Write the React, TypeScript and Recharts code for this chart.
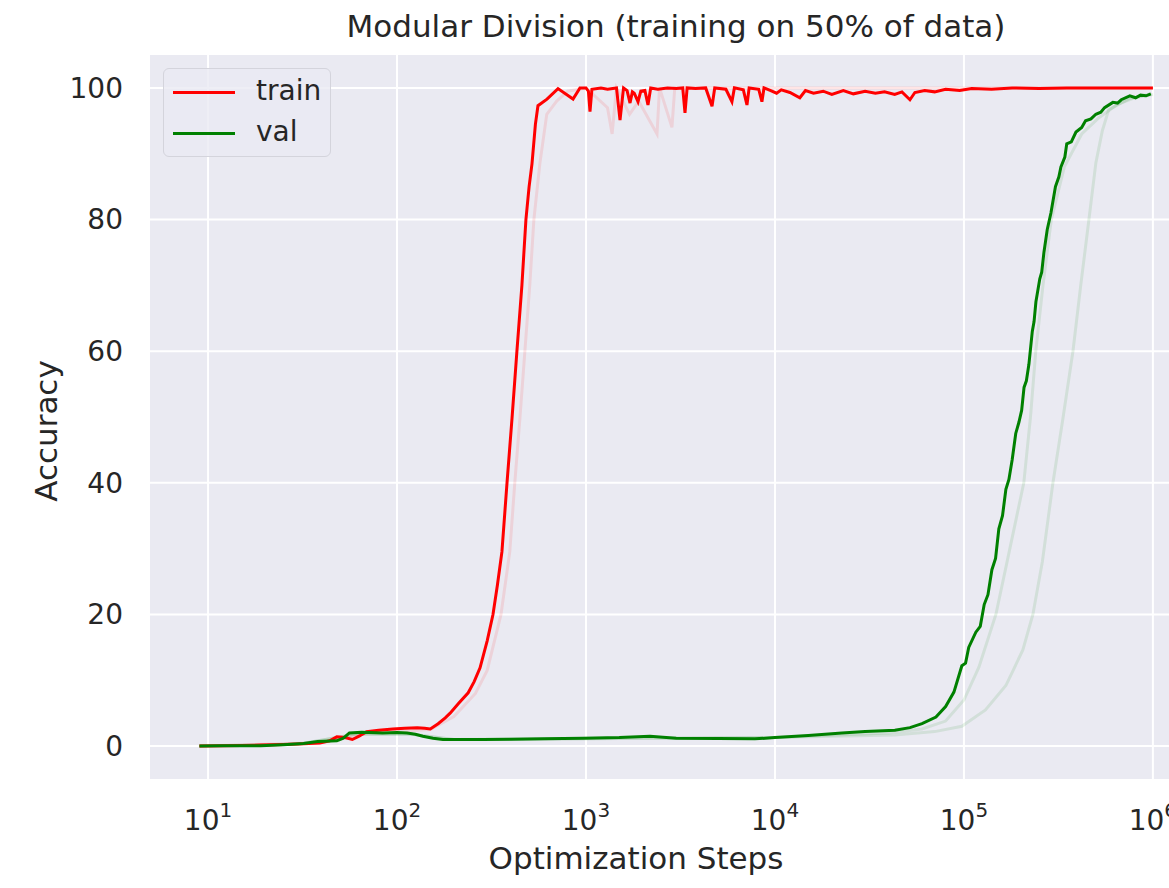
import { LineChart, Line, XAxis, YAxis, CartesianGrid, Legend } from "recharts";

// [step, accuracy %] pairs
const TRAIN: [number, number][] = [
  [9, 0], [12, 0.05], [15, 0.1], [19, 0.15], [25, 0.25], [32, 0.35], [39, 0.45], [44, 0.8],
  [48, 1.4], [53, 1.3], [58, 1.0], [63, 1.5], [69, 2.2], [80, 2.4], [95, 2.6], [110, 2.7],
  [128, 2.8], [140, 2.7], [150, 2.6], [165, 3.4], [180, 4.3], [191, 5.0], [212, 6.5], [238, 8.1],
  [256, 9.8], [275, 11.9], [300, 16], [322, 20], [340, 24.5], [359, 29.5], [382, 40], [406, 49.8],
  [431, 60], [458, 70], [481, 80], [500, 85], [518, 88.5], [540, 94.5], [557, 97.3], [622, 98.3],
  [711, 99.9], [854, 98.3], [929, 100], [1000, 100], [1030, 99.5], [1050, 96.4], [1075, 99.8],
  [1200, 100], [1300, 99.8], [1450, 100], [1514, 95.1], [1580, 100], [1650, 99.6], [1710, 97.7],
  [1760, 99.4], [1800, 99.2], [1885, 97.9], [1950, 99.5], [2050, 99.6], [2128, 97.4], [2200, 100],
  [2400, 99.8], [2700, 100], [3000, 99.9], [3250, 100], [3341, 96.2], [3430, 100], [3800, 99.9],
  [4300, 100], [4645, 97.2], [4800, 100], [5500, 99.8], [5920, 97.9], [6100, 100], [6800, 99.7],
  [7110, 97.4], [7300, 100], [8200, 99.8], [8530, 97.9], [8750, 100], [9500, 99.6], [10200, 99.2],
  [10800, 99.7], [12000, 99.3], [13540, 98.5], [14500, 99.6], [16000, 99.2], [18000, 99.5],
  [20000, 99.0], [23000, 99.6], [26000, 99.1], [30000, 99.5], [34000, 99.2], [38000, 99.4],
  [43000, 99.0], [47000, 99.4], [51800, 98.2], [55000, 99.3], [62000, 99.6], [70000, 99.4],
  [80000, 99.8], [95000, 99.6], [110000, 99.9], [140000, 99.8], [180000, 100], [250000, 99.9],
  [350000, 100], [500000, 100], [700000, 100], [1000000, 100],
];

const TRAIN_FAINT: [number, number][] = [
  [9, 0], [40, 0.5], [70, 2.0], [150, 2.5], [200, 4.5], [260, 8], [300, 11.5], [355, 20],
  [395, 29.5], [420, 40], [447, 49.8], [475, 60], [504, 70], [530, 80], [570, 88.5], [620, 96],
  [700, 98], [800, 99.5], [1000, 100], [1300, 97], [1375, 93], [1450, 100], [1700, 96], [1900, 98],
  [2376, 93], [2450, 100], [2850, 94], [2950, 100], [3500, 100], [1000000, 100],
];

const VAL: [number, number][] = [
  [9, 0], [12, 0.05], [15, 0.05], [19, 0.05], [25, 0.2], [32, 0.4], [38, 0.7], [48, 0.8],
  [52, 1.2], [56, 2.0], [65, 2.1], [84, 2.0], [100, 2.05], [113, 2.0], [125, 1.8], [137, 1.5],
  [155, 1.2], [175, 1.0], [220, 1.0], [285, 1.0], [400, 1.05], [600, 1.1], [964, 1.2],
  [1500, 1.3], [2180, 1.5], [3000, 1.2], [5000, 1.15], [7830, 1.1], [10000, 1.3], [15000, 1.6],
  [22600, 2.0], [30000, 2.2], [43100, 2.4], [51800, 2.8], [60000, 3.4], [71100, 4.4],
  [80000, 6.0], [88500, 8.2], [97500, 12.2], [102000, 12.6], [106000, 15.0], [115600, 17.3],
  [122000, 18.2], [128000, 21.5], [134000, 23.0], [140600, 26.8], [147000, 28.5], [153000, 33.0],
  [160000, 35.0], [166700, 39], [173000, 40.5], [180000, 43.5], [188000, 47.5], [195400, 49.2],
  [202000, 51.0], [208000, 54.5], [214000, 55.5], [220700, 58], [230000, 63], [235000, 64.5],
  [240400, 67.5], [252000, 71], [258000, 72], [265000, 75], [276000, 78.5], [288600, 81],
  [305000, 85], [318000, 86.5], [326000, 88], [342000, 89.5], [350000, 91.5], [370000, 91.8],
  [391600, 93.3], [420000, 94], [440000, 95], [470000, 95.3], [499000, 96], [530000, 96.3],
  [555000, 97], [613700, 97.8], [650000, 97.7], [680000, 98.2], [755000, 98.8], [810000, 98.5],
  [860000, 98.9], [920000, 98.8], [975000, 99.1],
];

const VAL_FAINT_A: [number, number][] = [
  [9, 0], [30, 0.3], [60, 1.8], [120, 1.8], [200, 1.0], [1000, 1.1], [10000, 1.3], [40000, 2.0],
  [60000, 2.6], [80000, 3.8], [100000, 7], [120000, 12], [147600, 20], [175000, 30], [207400, 40],
  [225000, 50], [240000, 60], [262000, 70], [290000, 80], [340000, 88], [420000, 93],
  [520000, 95.5], [650000, 97.5], [800000, 98.5], [1000000, 99],
];

const VAL_FAINT_B: [number, number][] = [
  [9, 0], [30, 0.3], [60, 1.8], [120, 1.8], [200, 1.0], [1000, 1.1], [10000, 1.3], [43100, 1.7],
  [70000, 2.2], [97500, 3.0], [130000, 5.5], [166700, 9.2], [205000, 14.6], [231700, 20],
  [260000, 28], [295800, 40], [335000, 50], [377500, 60], [415000, 70], [458600, 80],
  [499000, 88.6], [540000, 93.5], [584000, 96.7], [755000, 98.4], [975000, 99.1],
];

const X_TICKS = [10, 100, 1000, 10000, 100000, 1000000];
const Y_TICKS = [0, 20, 40, 60, 80, 100];

const TEXT = "#262626";
const FONT = "'DejaVu Sans', sans-serif";

const toRows = (pts: [number, number][]) => pts.map(([step, acc]) => ({ step, acc }));

function XTick({ x, payload }: any) {
  const exp = Math.round(Math.log10(payload.value));
  return (
    <text x={x} y={830} textAnchor="middle" fill={TEXT} fontSize={28} fontFamily={FONT}>
      10<tspan dy={-13} fontSize={20}>{exp}</tspan>
    </text>
  );
}

function YTick({ y, payload }: any) {
  return (
    <text x={123} y={y} dy="0.35em" textAnchor="end" fill={TEXT} fontSize={28} fontFamily={FONT}>
      {payload.value}
    </text>
  );
}

function LegendBox({ payload }: any) {
  const items = (payload || []).filter((p: any) => p.type !== "none");
  return (
    <div
      style={{
        width: 168, height: 89, boxSizing: "border-box", border: "1px solid #d4d4dc",
        borderRadius: 6, background: "rgba(234,234,242,0.8)", position: "relative",
      }}
    >
      {items.map((p: any, i: number) => (
        <div key={p.value} style={{ position: "absolute", left: 0, top: 4 + i * 41, height: 38, width: 168 }}>
          <div style={{ position: "absolute", left: 9, top: 18, width: 62, height: 3, background: p.color }} />
          <span style={{ position: "absolute", left: 92, top: 1, fontSize: 28, color: TEXT, fontFamily: FONT }}>
            {p.value}
          </span>
        </div>
      ))}
    </div>
  );
}

export default function App() {
  return (
    <div style={{ position: "absolute", left: 0, top: 0, width: 1169, height: 888, overflow: "hidden", background: "#fff", fontFamily: FONT }}>
      <LineChart width={1210} height={888} margin={{ top: 55, right: 10, bottom: 49, left: 90 }}>
        <CartesianGrid fill="#EAEAF2" fillOpacity={1} stroke="#ffffff" strokeWidth={2} syncWithTicks />
        <XAxis
          dataKey="step" type="number" scale="log" domain={[4.93, 1775000]} allowDataOverflow
          ticks={X_TICKS} tick={<XTick />} axisLine={false} tickLine={false} height={60}
        />
        <YAxis
          type="number" domain={[-5, 105]} ticks={Y_TICKS} tick={<YTick />}
          axisLine={false} tickLine={false} width={60}
        />
        <Legend
          layout="horizontal" verticalAlign="middle" align="center"
          wrapperStyle={{ left: 163, top: 68, width: 170, height: 91 }}
          content={<LegendBox />}
        />
        <Line data={toRows(TRAIN_FAINT)} dataKey="acc" stroke="#ff0000" strokeOpacity={0.1} strokeWidth={3} dot={false} legendType="none" isAnimationActive={false} />
        <Line data={toRows(VAL_FAINT_B)} dataKey="acc" stroke="#008000" strokeOpacity={0.1} strokeWidth={3} dot={false} legendType="none" isAnimationActive={false} />
        <Line data={toRows(VAL_FAINT_A)} dataKey="acc" stroke="#008000" strokeOpacity={0.1} strokeWidth={3} dot={false} legendType="none" isAnimationActive={false} />
        <Line data={toRows(TRAIN)} dataKey="acc" name="train" stroke="#ff0000" strokeWidth={3} dot={false} isAnimationActive={false} />
        <Line data={toRows(VAL)} dataKey="acc" name="val" stroke="#008000" strokeWidth={3} dot={false} isAnimationActive={false} />
      </LineChart>
      <svg width={1169} height={888} style={{ position: "absolute", left: 0, top: 0, pointerEvents: "none" }}>
        <text x={676} y={37} textAnchor="middle" fontSize={31} fill={TEXT} fontFamily={FONT}>
          Modular Division (training on 50% of data)
        </text>
        <text x={636} y={869} textAnchor="middle" fontSize={31} fill={TEXT} fontFamily={FONT}>
          Optimization Steps
        </text>
        <text x={57} y={431} textAnchor="middle" fontSize={31} fill={TEXT} fontFamily={FONT} transform="rotate(-90 57 431)">
          Accuracy
        </text>
      </svg>
    </div>
  );
}
